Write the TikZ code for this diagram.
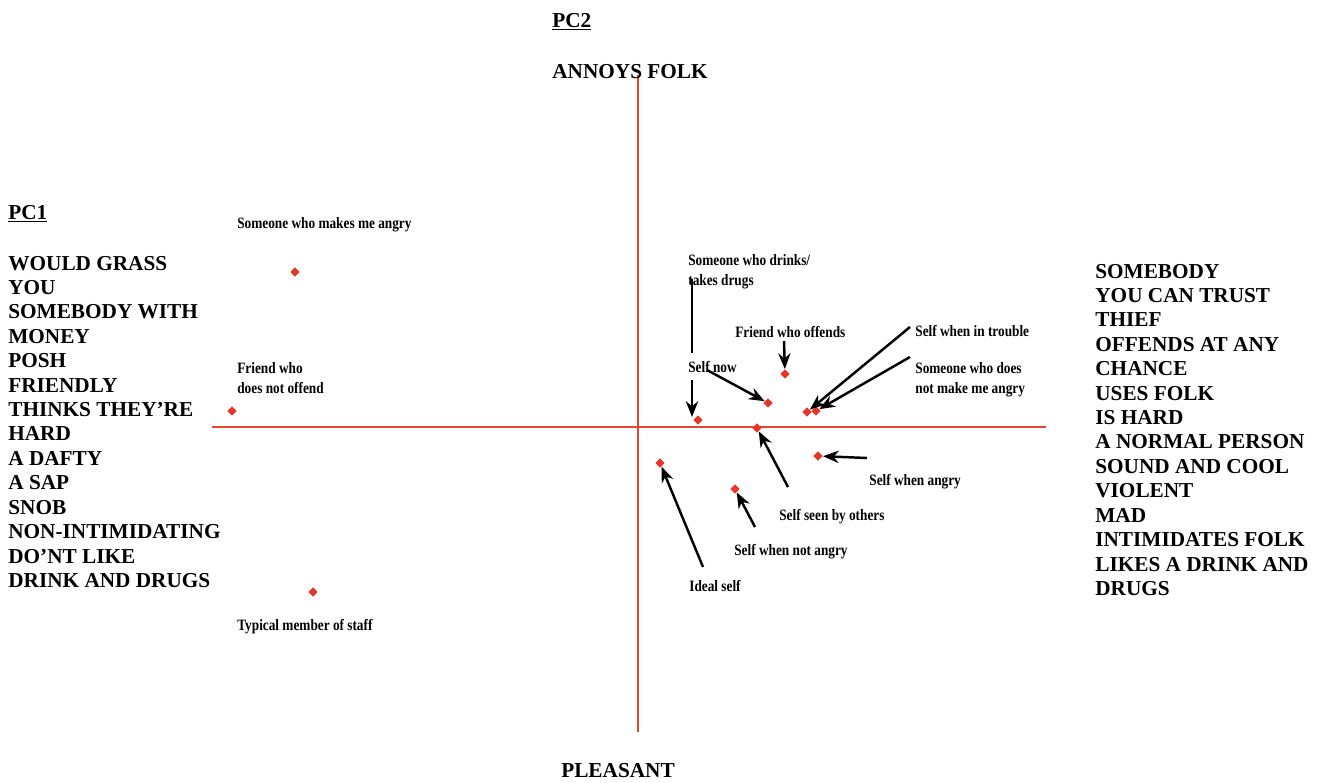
\documentclass[tikz,border=0pt]{standalone}
\usepackage{fontspec}
\setmainfont{Liberation Serif}
\newfontfamily\lblfont[FakeStretch=0.84]{Liberation Serif}
\usetikzlibrary{shapes.geometric,arrows.meta}
\definecolor{axisred}{HTML}{E4472F}
\definecolor{dotred}{HTML}{E8352A}
\tikzset{
  axisline/.style={draw=axisred, line width=0.9pt},
  pt/.style={diamond, fill=dotred, inner sep=0pt, minimum size=5.4pt},
  lbl/.style={inner sep=0pt, font=\lblfont\bfseries\fontsize{9}{11.3}\selectfont, align=left},
  pole/.style={inner sep=0pt, font=\bfseries\fontsize{12.1}{13.9}\selectfont, align=left},
  pointer/.style={draw=black, line width=1.4pt, -{Stealth[length=9pt,width=7pt]}},
}
\begin{document}
\begin{tikzpicture}[x=0.02cm, y=-0.02cm]
\useasboundingbox (0,0) rectangle (1324,782);

% axes
\coordinate (ytop) at (638,75);
\coordinate (ybot) at (638,732);
\coordinate (xl) at (212,427);
\coordinate (xr) at (1046,427);
\draw[axisline] (ytop) -- (ybot);
\draw[axisline] (xl) -- (xr);

% axis headings and poles (multi-line nodes are placed by their last baseline)
\node[pole, anchor=base west] (pc2) at (552,27) {\underline{PC2}};
\node[pole, anchor=base] (annoys) at (630,78) {ANNOYS FOLK};
\node[pole, anchor=base] (pleasant) at (618,777) {PLEASANT};
\node[pole, anchor=base west] (pc1) at (8,219) {\underline{PC1}};

\node[pole, anchor=base west] (leftpole) at (8,587.5) {WOULD GRASS\\YOU\\SOMEBODY WITH\\MONEY\\POSH\\FRIENDLY\\THINKS THEY'RE\\HARD\\A DAFTY\\A SAP\\SNOB\\NON-INTIMIDATING\\DO'NT LIKE\\DRINK AND DRUGS};
\node[pole, anchor=base west] (rightpole) at (1095,595.5) {SOMEBODY\\YOU CAN TRUST\\THIEF\\OFFENDS AT ANY\\CHANCE\\USES FOLK\\IS HARD\\A NORMAL PERSON\\SOUND AND COOL\\VIOLENT\\MAD\\INTIMIDATES FOLK\\LIKES A DRINK AND\\DRUGS};

% plotted elements
\node[pt] (angry) at (295,272) {};
\node[pt] (friendnot) at (232,411) {};
\node[pt] (staff) at (313,592) {};
\node[pt] (drinks) at (698,420) {};
\node[pt] (selfnow) at (768,403) {};
\node[pt] (friendoff) at (785,374) {};
\node[pt] (trouble) at (807,412) {};
\node[pt] (notangry) at (816,411) {};
\node[pt] (seen) at (757,428) {};
\node[pt] (whenangry) at (818,456) {};
\node[pt] (notangryself) at (735,489) {};
\node[pt] (ideal) at (660,463) {};

% element labels
\node[lbl, anchor=base west] (angrylbl) at (237,228) {Someone who makes me angry};
\node[lbl, anchor=base west] (friendnotlbl) at (237,393) {Friend who\\does not offend};
\node[lbl, anchor=base west] (stafflbl) at (237,630) {Typical member of staff};
\node[lbl, anchor=base west] (drinkslbl) at (688,285) {Someone who drinks/\\takes drugs};
\node[lbl, anchor=base west] (friendofflbl) at (735,337) {Friend who offends};
\node[lbl, anchor=base west] (troublelbl) at (915,336) {Self when in trouble};
\node[lbl, anchor=base west] (notangrylbl) at (915,393) {Someone who does\\not make me angry};
\node[lbl, anchor=base west] (seenlbl) at (779,520) {Self seen by others};
\node[lbl, anchor=base west] (whenangrylbl) at (869,485) {Self when angry};
\node[lbl, anchor=base west] (notangryselflbl) at (734,555) {Self when not angry};
\node[lbl, anchor=base west] (ideallbl) at (689,591) {Ideal self};

% pointer from the drinks label, passing behind the "Self now" label
\coordinate (drinksfrom) at (692,279);
\coordinate (drinksto) at (692,417);
\draw[pointer] (drinksfrom) -- (drinksto);
\node[lbl, anchor=base west, fill=white, inner xsep=3pt, inner ysep=4.5pt] (selfnowlbl) at (682.7,372) {Self now};

% pointers from labels to their elements
\coordinate (selfnowfrom) at (707,370);
\draw[pointer] (selfnowfrom) -- (selfnow);
\coordinate (friendofffrom) at (784,341);
\draw[pointer] (friendofffrom) -- (friendoff);
\coordinate (troublefrom) at (910,327);
\draw[pointer] (troublefrom) -- (trouble);
\coordinate (notangryfrom) at (910,357);
\draw[pointer] (notangryfrom) -- (notangry);
\coordinate (seenfrom) at (788,487);
\draw[pointer] (seenfrom) -- (seen);
\coordinate (whenangryfrom) at (867,458);
\draw[pointer] (whenangryfrom) -- (whenangry);
\coordinate (notangryselffrom) at (755,527);
\draw[pointer] (notangryselffrom) -- (notangryself);
\coordinate (idealfrom) at (703,567);
\draw[pointer] (idealfrom) -- (ideal);
\end{tikzpicture}
\end{document}
